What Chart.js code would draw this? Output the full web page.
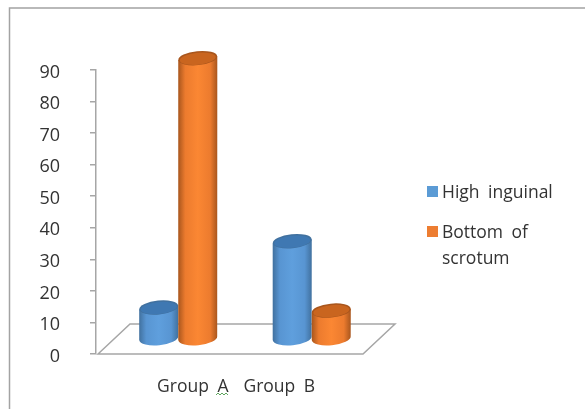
<!DOCTYPE html>
<html>
<head>
<meta charset="utf-8">
<script src="https://cdn.jsdelivr.net/npm/chart.js@4"></script>
<style>
html,body{margin:0;padding:0;background:#fff}
canvas{display:block}
</style>
</head>
<body>
<canvas id="chart" width="585" height="409"></canvas>
<script>
const categories = ['Group A', 'Group B'];
const highInguinal = [10, 31];
const bottomOfScrotum = [89, 9];
const seriesNames = ['High inguinal', 'Bottom of scrotum'];
const legendLines = [['High inguinal'], ['Bottom of', 'scrotum']];
const yTicks = [0, 10, 20, 30, 40, 50, 60, 70, 80, 90];

const FONT = '"Open Sans", sans-serif';
const TEXT = '#333333';
const RULE = '#a6a6a6';
const DEPTH_X = 32;          // floor skew, back edge against front edge
const DEPTH_Y = 30;
const BAR_SHIFT = 15.5;      // cylinders stand halfway into the floor
const BAR_SINK = 15;
const RX_TILT = -0.1;        // slight roll of the cylinder caps
const RY = 7;

const shades = {
  blue:   {edge: '#41719f', mid: '#5895d2', light: '#5f9fdd', cap: '#3f78b2', key: '#5b9bd5'},
  orange: {edge: '#a9561d', mid: '#ec7b2e', light: '#fb8733', cap: '#c9651f', key: '#ed7d31'}
};

function cylinder(ctx, cx, top, bottom, halfW, c) {
  const g = ctx.createLinearGradient(cx - halfW, 0, cx + halfW, 0);
  g.addColorStop(0, c.edge);
  g.addColorStop(0.18, c.mid);
  g.addColorStop(0.5, c.light);
  g.addColorStop(0.82, c.mid);
  g.addColorStop(1, c.edge);
  const rise = Math.sin(-RX_TILT) * halfW;
  ctx.beginPath();
  ctx.moveTo(cx - halfW, top + rise);
  ctx.lineTo(cx - halfW, bottom + rise);
  ctx.ellipse(cx, bottom, halfW, RY, RX_TILT, Math.PI, 0, true);
  ctx.lineTo(cx + halfW, top - rise);
  ctx.closePath();
  ctx.fillStyle = g;
  ctx.fill();
  // cap with a thin lit rim
  ctx.beginPath();
  ctx.ellipse(cx, top, halfW, RY, RX_TILT, 0, Math.PI * 2);
  ctx.fillStyle = c.edge;
  ctx.fill();
  ctx.beginPath();
  ctx.ellipse(cx, top + 0.5, halfW - 1.5, RY - 1, RX_TILT, 0, Math.PI * 2);
  ctx.fillStyle = c.cap;
  ctx.fill();
}

const scene = {
  id: 'scene',
  beforeDatasetsDraw(chart) {
    const {ctx, chartArea: a} = chart;
    ctx.save();
    // page frame
    ctx.strokeStyle = '#a3a3a3';
    ctx.lineWidth = 1.5;
    ctx.beginPath();
    ctx.moveTo(9.5, 409);
    ctx.lineTo(9.5, 8);
    ctx.lineTo(585, 8);
    ctx.stroke();
    // floor
    ctx.strokeStyle = RULE;
    ctx.lineWidth = 1.5;
    ctx.beginPath();
    ctx.moveTo(a.left + 2, a.bottom);
    ctx.lineTo(a.left + 2 + DEPTH_X, a.bottom - DEPTH_Y);
    ctx.lineTo(a.right + DEPTH_X, a.bottom - DEPTH_Y);
    ctx.lineTo(a.right, a.bottom);
    ctx.closePath();
    ctx.stroke();
    ctx.restore();
  },
  afterDatasetsDraw(chart) {
    const {ctx, scales} = chart;
    ctx.save();
    const palettes = [shades.blue, shades.orange];
    chart.data.datasets.forEach((ds, i) => {
      chart.getDatasetMeta(i).data.forEach(bar => {
        cylinder(ctx, bar.x + BAR_SHIFT, bar.y - BAR_SINK, bar.base - BAR_SINK, bar.width / 2, palettes[i]);
      });
    });
    // category labels sit closer together than the group centres
    const nudges = [30, -17];
    ctx.font = '17.5px ' + FONT;
    ctx.wordSpacing = '4px';
    ctx.fillStyle = TEXT;
    ctx.textAlign = 'center';
    ctx.textBaseline = 'middle';
    categories.forEach((name, i) => {
      ctx.fillText(name, scales.x.getPixelForValue(i) + nudges[i], 387);
    });
    // proofing squiggle under the A
    ctx.strokeStyle = '#5fa55f';
    ctx.lineWidth = 1;
    ctx.beginPath();
    for (let k = 0; k <= 6; k++) {
      const px = 216 + k * 2;
      const py = k % 2 ? 393 : 395;
      if (k) ctx.lineTo(px, py); else ctx.moveTo(px, py);
    }
    ctx.stroke();
    // legend
    const rows = [192, 232];
    ctx.textAlign = 'left';
    legendLines.forEach((lines, i) => {
      ctx.fillStyle = palettes[i].key;
      ctx.fillRect(427, rows[i] - 6, 11, 11);
      ctx.fillStyle = TEXT;
      lines.forEach((t, j) => ctx.fillText(t, 442, rows[i] + 1.5 + j * 26));
    });
    ctx.restore();
  }
};

new Chart(document.getElementById('chart'), {
  type: 'bar',
  data: {
    labels: categories,
    datasets: [
      {label: seriesNames[0], data: highInguinal, backgroundColor: 'rgba(0,0,0,0)'},
      {label: seriesNames[1], data: bottomOfScrotum, backgroundColor: 'rgba(0,0,0,0)'}
    ]
  },
  options: {
    responsive: false,
    animation: false,
    layout: {padding: {left: 0, top: 70, right: 222, bottom: 55}},
    datasets: {bar: {categoryPercentage: 0.585, barPercentage: 1}},
    plugins: {legend: {display: false}, title: {display: false}, tooltip: {enabled: false}},
    scales: {
      x: {
        afterFit(axis) { axis.height = 0; },
        grid: {display: false},
        border: {display: false},
        ticks: {display: false}
      },
      y: {
        min: 0,
        max: 90,
        afterBuildTicks(axis) { axis.ticks = yTicks.map(v => ({value: v})); },
        afterFit(axis) { axis.width = 96; },
        grid: {drawOnChartArea: false, drawTicks: true, tickLength: 6, color: RULE, lineWidth: 1.5},
        border: {color: RULE, width: 1.5},
        ticks: {color: TEXT, font: {family: FONT, size: 18}, padding: 30, labelOffset: 2.5}
      }
    }
  },
  plugins: [scene]
});
</script>
</body>
</html>
